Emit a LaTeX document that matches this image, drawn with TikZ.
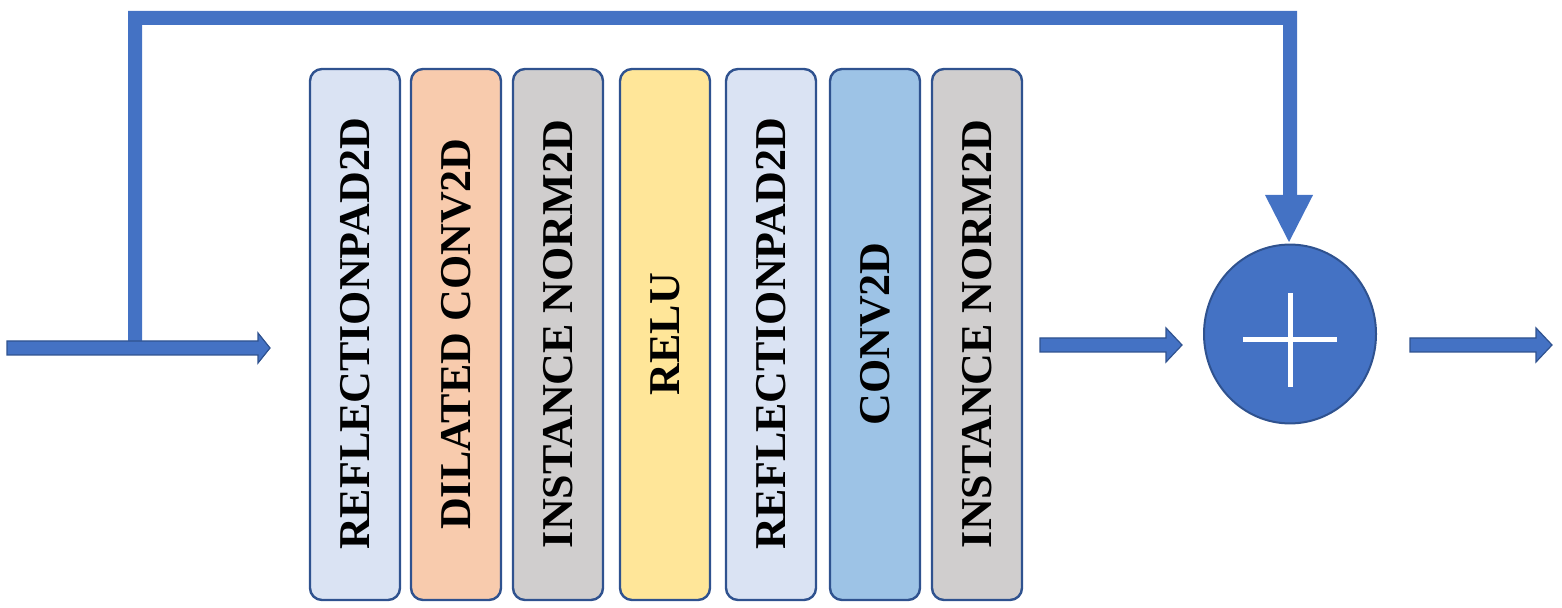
\documentclass[tikz,border=0pt]{standalone}
\usepackage{fontspec}
\setmainfont{Liberation Serif}
\definecolor{ablue}{RGB}{68,114,196}
\definecolor{edge}{RGB}{47,82,143}
\definecolor{c1}{RGB}{218,227,243}
\definecolor{c2}{RGB}{248,203,173}
\definecolor{c3}{RGB}{208,206,206}
\definecolor{c4}{RGB}{255,230,153}
\definecolor{c6}{RGB}{157,195,230}
\begin{document}
\begin{tikzpicture}[x=0.5pt,y=-0.5pt,
 layer/.style={draw=edge,line width=1.2pt,rounded corners=6pt,minimum width=45pt,minimum height=265.5pt,inner sep=0pt},
 lbl/.style={rotate=90,font=\fontsize{22}{24}\selectfont\bfseries},
 barrow/.style={fill=ablue,draw=edge,line width=0.6pt}]
\useasboundingbox (0,0) rectangle (1562,608);
\foreach \n/\x/\c/\t in {a/355/c1/REFLECTIONPAD2D,b/456/c2/DILATED CONV2D,c/558/c3/INSTANCE NORM2D,d/665/c4/RELU,e/771/c1/REFLECTIONPAD2D,f/875/c6/CONV2D,g/977/c3/INSTANCE NORM2D}{
 \node[layer,fill=\c] (\n) at (\x,334.5) {};
 \node[lbl] (\n t) at (\x,334) {\t};
}
% skip connection
\fill[ablue] (128,341) -- (128,11) -- (1297,11) -- (1297,195) -- (1283,195) -- (1283,25) -- (142,25) -- (142,341) -- cycle;
\fill[ablue] (1265,195) -- (1313,195) -- (1289,242) -- cycle;
% input arrow
\draw[barrow] (7,341) -- (258,341) -- (258,333) -- (270,348) -- (258,363) -- (258,355) -- (7,355) -- cycle;
\coordinate (in) at (270,348);
% sum
\node[circle,fill=ablue,draw=edge,line width=1pt,minimum width=86pt,inner sep=0pt,yscale=1.04] (sum) at (1290,334) {};
\draw[white,line width=2.5pt] (1243,340) -- (1337,340) (1290,293) -- (1290,387);
\draw[barrow] (1040,338) -- (1166,338) -- (1166,328) -- (1182,345) -- (1166,362) -- (1166,352) -- (1040,352) -- cycle;
\draw[barrow] (1410,338) -- (1536,338) -- (1536,328) -- (1552,345) -- (1536,362) -- (1536,352) -- (1410,352) -- cycle;
\end{tikzpicture}
\end{document}
